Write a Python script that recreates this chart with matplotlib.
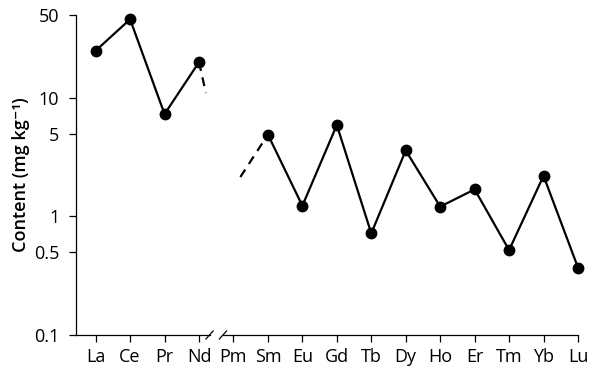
import numpy as np
import matplotlib
matplotlib.use("Agg")
import matplotlib.pyplot as plt
import matplotlib.transforms as mtransforms

plt.rcParams["font.family"] = ["Open Sans", "DejaVu Sans"]

# rare earth elements on the x axis
elements = ["La", "Ce", "Pr", "Nd", "Pm", "Sm", "Eu", "Gd",
            "Tb", "Dy", "Ho", "Er", "Tm", "Yb", "Lu"]

# light REE (before the break), values in mg/kg
light_idx = [0, 1, 2, 3]
light_vals = [25.0, 46.0, 7.3, 20.0]

# heavy REE (after the break)
heavy_idx = [5, 6, 7, 8, 9, 10, 11, 12, 13, 14]
heavy_vals = [4.9, 1.23, 5.9, 0.72, 3.6, 1.21, 1.69, 0.52, 2.2, 0.37]

# dashed stubs on either side of the missing Pm
stub_left_x = [3, 3.2]
stub_left_y = [20.0, 11.0]
stub_right_x = [4.2, 5]
stub_right_y = [2.15, 4.9]

y_ticks = [0.1, 0.5, 1, 5, 10, 50]
y_tick_labels = ["0.1", "0.5", "1", "5", "10", "50"]

fig = plt.figure(figsize=(5.97, 3.68), dpi=100)
ax = fig.add_axes([76 / 597, 1 - 335 / 368, (578 - 76) / 597, (335 - 15) / 368])

ax.plot(light_idx, light_vals, color="black", lw=1.6, marker="o", ms=7.5,
        clip_on=False, zorder=3)
ax.plot(heavy_idx, heavy_vals, color="black", lw=1.6, marker="o", ms=7.5,
        clip_on=False, zorder=3)
ax.plot(stub_left_x, stub_left_y, color="black", lw=1.6, ls=(0, (4, 3)))
ax.plot(stub_right_x, stub_right_y, color="black", lw=1.6, ls=(0, (4, 3)))

ax.set_yscale("log")
ax.set_ylim(0.1, 50)
ax.set_xlim(-0.57, 14)
ax.set_yticks(y_ticks)
ax.set_yticklabels(y_tick_labels)
ax.yaxis.set_minor_locator(matplotlib.ticker.NullLocator())
ax.set_xticks(range(len(elements)))
ax.set_xticklabels(elements)

ax.tick_params(axis="both", direction="out", length=5, width=0.9,
               labelsize=13, colors="black")
ax.tick_params(axis="x", pad=4)
ax.tick_params(axis="y", pad=7)

for side in ["top", "right", "bottom"]:
    ax.spines[side].set_visible(False)
ax.spines["left"].set_linewidth(0.9)

ax.set_ylabel("Content (mg kg\u207b\u00b9)", fontsize=13, fontweight="semibold",
              labelpad=3)

# x axis drawn by hand with a break between Nd and Pm
trans = mtransforms.blended_transform_factory(ax.transData, ax.transAxes)
brk = 3.5
gap = 0.195
ax.plot([-0.57, brk - gap], [0, 0], color="black", lw=0.9,
        transform=trans, clip_on=False)
ax.plot([brk + gap, 14], [0, 0], color="black", lw=0.9,
        transform=trans, clip_on=False)
for cx in [brk - gap, brk + gap]:
    ax.plot([cx - 0.105, cx + 0.105], [-0.0125, 0.0125], color="black",
            lw=0.9, transform=trans, clip_on=False)

fig.savefig("out.png", dpi=100)
